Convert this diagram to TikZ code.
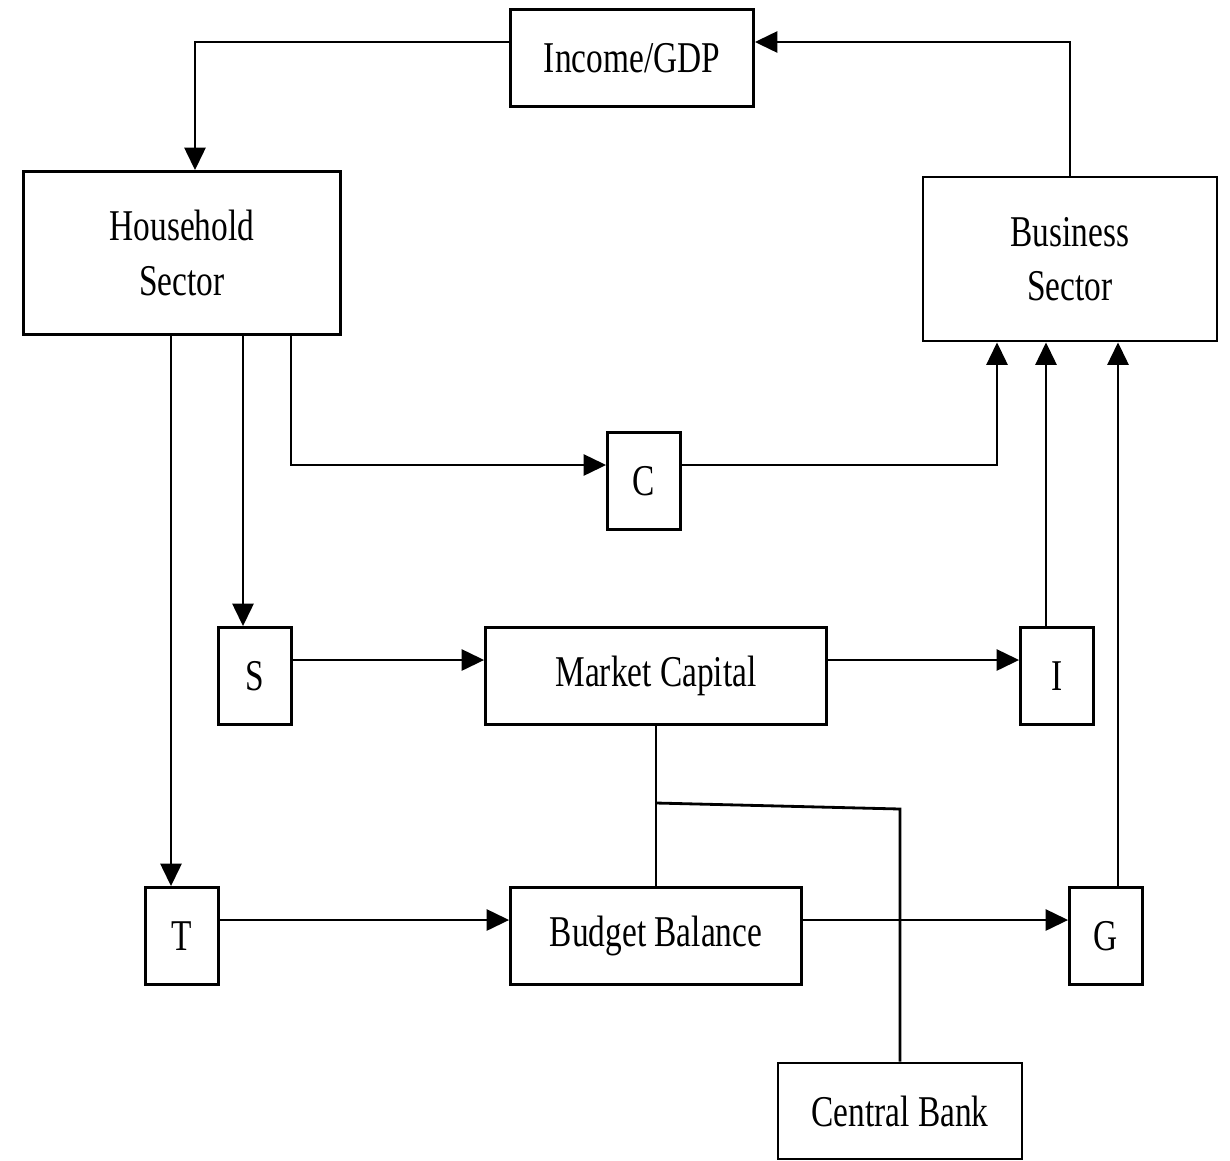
\documentclass[tikz,border=0pt]{standalone}
\usepackage{fontspec}
\setmainfont[FakeStretch=0.76]{Liberation Serif}
\usetikzlibrary{arrows.meta}

\begin{document}
\begin{tikzpicture}[->, >={Triangle[length=0.45cm,width=0.42cm]}, x=0.02cm, y=-0.02cm, line width=1.6pt,
    box/.style={draw, rectangle, inner sep=0pt, align=center, minimum height=1.94cm,
                font=\fontsize{25pt}{31pt}\selectfont},
    small/.style={box, minimum width=1.46cm}]

    \useasboundingbox (0,0) rectangle (1230,1160);

    \node[box, minimum width=4.86cm]                        (inc) at (632,58)   {Income/GDP};
    \node[box, minimum width=6.34cm, minimum height=3.26cm] (hh)  at (182,253)  {Household\\Sector};
    \node[box, minimum width=5.88cm, minimum height=3.28cm] (biz) at (1070,259) {Business\\Sector};
    \node[small]                                            (c)   at (644,481)  {C};
    \node[small]                                            (s)   at (255,676)  {S};
    \node[box, minimum width=6.82cm]                        (mc)  at (656,676)  {Market Capital};
    \node[small]                                            (i)   at (1057,676) {I};
    \node[small]                                            (t)   at (182,936)  {T};
    \node[box, minimum width=5.82cm]                        (bb)  at (656,936)  {Budget Balance};
    \node[small]                                            (g)   at (1106,936) {G};
    \node[box, minimum width=4.88cm, minimum height=1.92cm] (cb)  at (900,1111) {Central Bank};

    % income loop
    \draw (inc.west |- 0,42) -| (195,0 |- hh.north);
    \draw (biz.north) |- (inc.east |- 0,42);

    % household outflows
    \draw (171,0 |- hh.south) -- (171,0 |- t.north);
    \draw (243,0 |- hh.south) -- (243,0 |- s.north);
    \draw (291,0 |- hh.south) |- (c.west |- 0,465);

    % into business
    \draw (c.east |- 0,465) -| (997,0 |- biz.south);
    \draw (1046,0 |- i.north) -- (1046,0 |- biz.south);
    \draw (1118,0 |- g.north) -- (1118,0 |- biz.south);

    % middle rows
    \draw (s.east |- 0,660) -- (mc.west |- 0,660);
    \draw (mc.east |- 0,660) -- (i.west |- 0,660);
    \draw (t.east |- 0,920) -- (bb.west |- 0,920);
    \draw (bb.east |- 0,920) -- (g.west |- 0,920);

    % central bank link
    \coordinate (j) at (mc.south |- 0,803);
    \draw[-] (mc.south) -- (bb.north);
    \draw[-] (j) -- (cb.north |- 0,809) -- (cb.north);
\end{tikzpicture}
\end{document}
